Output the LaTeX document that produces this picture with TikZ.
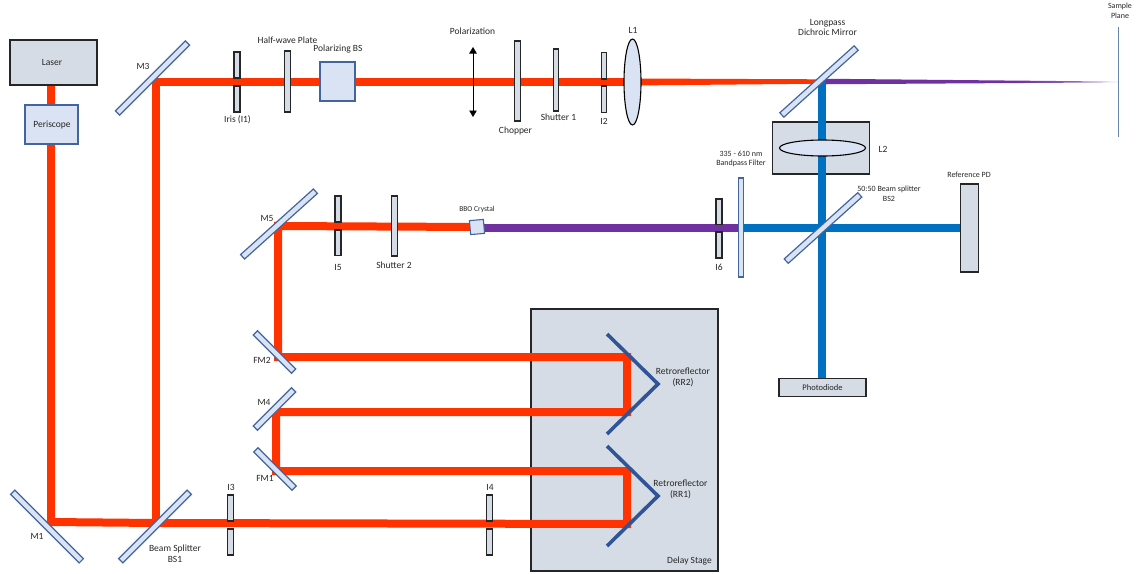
\documentclass[tikz,border=0pt]{standalone}
\usepackage{fontspec}
\setmainfont{Carlito}
\usetikzlibrary{arrows.meta,shapes.geometric}
\pgfdeclarelayer{bottom}
\pgfdeclarelayer{beams}
\pgfsetlayers{bottom,beams,main}
\definecolor{redbeam}{HTML}{FF3300}
\definecolor{bluebeam}{HTML}{0070C0}
\definecolor{purplebeam}{HTML}{7030A0}
\definecolor{greyfill}{HTML}{D6DCE5}
\definecolor{bluefill}{HTML}{DAE3F3}
\definecolor{blueline}{HTML}{41659C}
\definecolor{retro}{HTML}{2F5597}
\definecolor{darkline}{HTML}{262626}
\definecolor{labeltext}{HTML}{262626}
\pgfdeclarehorizontalshading{purplefade}{100bp}{color(0bp)=(purplebeam); color(25bp)=(purplebeam); color(58bp)=(purplebeam); color(68bp)=(purplebeam!75); color(75bp)=(purplebeam!12); color(100bp)=(white)}
\tikzset{
  every node/.style={inner sep=0pt,outer sep=0pt},
  lbl/.style={font=\fontsize{9.5}{10.5}\selectfont,text=labeltext,align=center},
  smalllbl/.style={font=\fontsize{8}{9.5}\selectfont,text=labeltext,align=center},
  mirrorbox/.style={draw=blueline,fill=bluefill,line width=1.2pt,rectangle,minimum height=6pt},
  bladebox/.style={draw=darkline,fill=greyfill,line width=1.2pt,rectangle},
  greybox/.style={draw=darkline,fill=greyfill,line width=1.3pt,rectangle},
  bluebox/.style={draw=blueline,fill=bluefill,line width=1.1pt,rectangle},
  lensshape/.style={draw=black,fill=bluefill,line width=1.1pt,ellipse},
  redray/.style={draw=redbeam,line width=8pt,line join=miter},
  blueray/.style={draw=bluebeam,line width=8pt},
  purpleray/.style={draw=purplebeam,line width=8pt},
  retrobar/.style={draw=retro,line width=3.6pt,line join=miter},
}
\newcommand{\bladeat}[5]{\node[bladebox,minimum width=#3pt,minimum height=#5pt-#4pt,anchor=center] (#1) at (#2,{(#4+#5)/2}) {};}
\begin{document}
\begin{tikzpicture}[x=1pt,y=-1pt]
\useasboundingbox (0,0) rectangle (1137,573);
% coordinates of the ray turning points
\coordinate (pLaser) at (51,85);
\coordinate (pM1) at (51,522);
\coordinate (pBS1) at (156,523);
\coordinate (pM3) at (156,82);
\coordinate (pRRa) at (627,524);
\coordinate (pRRb) at (627,471);
\coordinate (pFMa) at (276,471);
\coordinate (pMd) at (276,412);
\coordinate (pRRc) at (627,412);
\coordinate (pRRd) at (627,357);
\coordinate (pFMb) at (278,357);
\coordinate (pMe) at (278,226);
\coordinate (pTop) at (822,82);
\coordinate (pBlueEnd) at (822,379);
\coordinate (pPurpleStart) at (480,228);
\coordinate (pBlueMid) at (741,228);
\coordinate (pSample) at (1118,82);
\coordinate (sa) at (1118,27);
\coordinate (sb) at (1118,137);
\coordinate (pa) at (473,47);
\coordinate (pb) at (473,117);
% large backing boxes
\begin{pgfonlayer}{bottom}
\node[draw=darkline,fill=greyfill,line width=1.3pt,minimum width=187pt,minimum height=262pt] (stage) at (624.5,440) {};
\node[greybox,minimum width=97pt,minimum height=52pt] (L2box) at (821,148) {};
\end{pgfonlayer}
% boxes
\node[greybox,minimum width=87pt,minimum height=45pt] (laser) at (53.5,62.5) {};
\node[lbl] at (52,62) {Laser};
\node[bluebox,minimum width=53pt,minimum height=39pt] (peri) at (51.5,124.5) {};
\node[lbl] at (52,125) {Periscope};
\node[bluebox,minimum width=35pt,minimum height=39pt] (pbs) at (337.5,81.5) {};
\node[greybox,minimum width=18pt,minimum height=88pt] (refpd) at (969.5,228) {};
\node[greybox,minimum width=87pt,minimum height=17.5pt] (pd) at (822.5,387.5) {};
\node[lbl,font=\fontsize{8.5}{10}\selectfont] at (822.5,388) {Photodiode};
\node[bluebox,minimum width=14pt,minimum height=14pt,rotate=5] (bbo) at (477,227) {};
% mirrors
\node[mirrorbox,minimum width=99pt,rotate=45] (M3) at (152.5,78) {};
\node[mirrorbox,minimum width=97pt,rotate=-45] (M1) at (47,526.5) {};
\node[mirrorbox,minimum width=97pt,rotate=45] (BS1) at (155,526.5) {};
\node[mirrorbox,minimum width=98pt,rotate=42] (M5) at (279,224) {};
\node[mirrorbox,minimum width=54pt,rotate=-45] (FM2) at (274.5,352) {};
\node[mirrorbox,minimum width=54pt,rotate=45] (M4) at (274.5,409) {};
\node[mirrorbox,minimum width=54pt,rotate=-45] (FM1) at (275,469) {};
\node[mirrorbox,minimum width=100pt,rotate=42] (LP) at (819,81.5) {};
\node[mirrorbox,minimum width=99pt,rotate=42] (BS2) at (823,228) {};
\node[mirrorbox,minimum width=5pt,minimum height=99pt] (BP) at (741,227.5) {};
% irises, shutters, plates
\bladeat{Ia}{237}{6}{52}{78}
\bladeat{Ib}{237}{6}{86}{112}
\bladeat{HW}{287.5}{5.5}{51}{112}
\bladeat{Chop}{517.5}{5.5}{41}{121}
\bladeat{Sa}{556}{5.5}{49}{111}
\bladeat{IIa}{604}{5.5}{52.5}{79}
\bladeat{IIb}{604}{5.5}{86}{112.5}
\bladeat{Iva}{338}{6}{196}{222}
\bladeat{Ivb}{338}{6}{230}{255.5}
\bladeat{Sb}{394.5}{5.5}{196}{256}
\bladeat{IVIa}{719}{6}{199}{224.5}
\bladeat{IVIb}{719}{6}{232}{258}
\bladeat{IIIa}{230.5}{5.5}{495}{521}
\bladeat{IIIb}{230.5}{5.5}{529}{555}
\bladeat{IVa}{489.5}{5.5}{495}{521}
\bladeat{IVb}{489.5}{5.5}{529}{555}
% lenses
\node[lensshape,minimum width=17pt,minimum height=86pt] (L1) at (632.5,82) {};
\node[lensshape,minimum width=86pt,minimum height=16pt] (L2) at (822.5,148) {};
% rays
\begin{pgfonlayer}{beams}
\draw[redray] (pLaser) -- (pM1) -- (pBS1) -- (pRRa) -- (pRRb) -- (pFMa) -- (pMd) -- (pRRc) -- (pRRd) -- (pFMb) -- (pMe) -- (bbo.center);
\draw[redray] (pBS1) -- (pM3) -- (L1.center);
\fill[redbeam] ([yshift=3.5pt]L1.center) -- ([yshift=2.2pt]LP.center) -- ([yshift=-2.2pt]LP.center) -- ([yshift=-3.5pt]L1.center) -- cycle;
\shade[shading=purplefade] ([yshift=2.8pt]LP.center) -- ([yshift=0.4pt]pSample) -- ([yshift=-0.4pt]pSample) -- ([yshift=-2.8pt]LP.center) -- cycle;
\draw[purpleray] (pPurpleStart) -- (pBlueMid);
\draw[blueray] (pTop) -- (pBlueEnd);
\draw[blueray] (pBlueMid) -- (refpd.center);
\end{pgfonlayer}
% sample plane, polarization arrow
\draw[draw=blueline!80,line width=0.6pt] (sa) -- (sb);
\draw[line width=0.6pt,{Triangle[length=6.5pt,width=7.5pt]}-{Triangle[length=6.5pt,width=7.5pt]}] (pa) -- (pb);
% retroreflectors
\coordinate (rbt) at (607,334);
\coordinate (rbm) at (658,384);
\coordinate (rbb) at (607,434);
\coordinate (rat) at (607,446);
\coordinate (ram) at (658,496);
\coordinate (rab) at (607,546);
\draw[retrobar] (rbt) -- (rbm) -- (rbb);
\draw[retrobar] (rat) -- (ram) -- (rab);
% labels
\node[lbl] at (143,66) {M3};
\node[lbl] at (237.5,120) {Iris (I1)};
\node[lbl] at (287.5,40) {Half-wave Plate};
\node[lbl] at (338,49) {Polarizing BS};
\node[lbl] at (472.5,31) {Polarization};
\node[lbl] at (515.5,131) {Chopper};
\node[lbl] at (558.5,117) {Shutter 1};
\node[lbl] at (604,121) {I2};
\node[lbl] at (633,30) {L1};
\node[lbl] at (827.5,27.5) {Longpass\\Dichroic Mirror};
\node[smalllbl] at (1120,11) {Sample\\Plane};
\node[lbl] at (883,149) {L2};
\node[smalllbl] at (741,159) {335 - 610 nm\\Bandpass Filter};
\node[smalllbl] at (889,193.5) {50:50 Beam splitter\\BS2};
\node[smalllbl] at (969,175) {Reference PD};
\node[lbl] at (719,267) {I6};
\node[lbl] at (267,218) {M5};
\node[lbl] at (338,267) {I5};
\node[lbl] at (394,265) {Shutter 2};
\node[smalllbl,font=\fontsize{7.5}{9}\selectfont] at (477,209) {BBO Crystal};
\node[lbl] at (262,360) {FM2};
\node[lbl] at (264,402) {M4};
\node[lbl] at (265,478) {FM1};
\node[lbl] at (231,487) {I3};
\node[lbl] at (490,487) {I4};
\node[lbl] at (37,536) {M1};
\node[lbl] at (175,553.5) {Beam Splitter\\BS1};
\node[lbl] at (683,377.5) {Retroreflector\\(RR2)};
\node[lbl] at (680.5,489.5) {Retroreflector\\(RR1)};
\node[lbl] at (689.5,561) {Delay Stage};
\end{tikzpicture}
\end{document}
